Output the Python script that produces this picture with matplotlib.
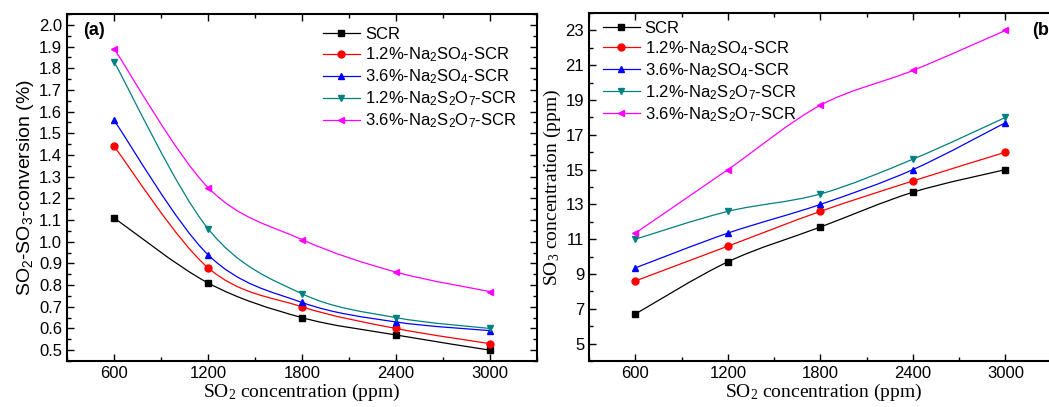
import numpy as np
import matplotlib
matplotlib.use("Agg")
import matplotlib.pyplot as plt
from matplotlib.path import Path
from matplotlib.patches import PathPatch
from matplotlib.lines import Line2D
from matplotlib.ticker import MultipleLocator, FormatStrFormatter

so2 = [600, 1200, 1800, 2400, 3000]

labels = ["SCR",
          r"1.2%-Na$\mathregular{_2}$SO$\mathregular{_4}$-SCR",
          r"3.6%-Na$\mathregular{_2}$SO$\mathregular{_4}$-SCR",
          r"1.2%-Na$\mathregular{_2}$S$\mathregular{_2}$O$\mathregular{_7}$-SCR",
          r"3.6%-Na$\mathregular{_2}$S$\mathregular{_2}$O$\mathregular{_7}$-SCR"]

# (a) SO2-SO3 conversion (%)
conv_scr = [1.11, 0.81, 0.65, 0.57, 0.50]
conv_12so4 = [1.44, 0.88, 0.70, 0.60, 0.53]
conv_36so4 = [1.56, 0.94, 0.72, 0.63, 0.59]
conv_12s2o7 = [1.83, 1.06, 0.76, 0.65, 0.60]
conv_36s2o7 = [1.89, 1.25, 1.01, 0.86, 0.77]

# (b) SO3 concentration (ppm)
so3_scr = [6.7, 9.7, 11.7, 13.7, 15.0]
so3_12so4 = [8.6, 10.6, 12.6, 14.35, 16.0]
so3_36so4 = [9.35, 11.35, 13.0, 15.0, 17.7]
so3_12s2o7 = [11.0, 12.6, 13.6, 15.6, 18.0]
so3_36s2o7 = [11.35, 15.0, 18.7, 20.7, 23.0]

colors = ["black", "#ff0000", "#0000ff", "#008080", "#ff00ff"]
markers = ["s", "o", "^", "v", "<"]

SANS = "Liberation Sans"
SERIF = "Liberation Serif"
plt.rcParams["font.family"] = SANS


def smooth_path(x, y):
    # Catmull-Rom curve through the points, drawn as cubic Bezier segments
    x = np.asarray(x, float)
    y = np.asarray(y, float)
    px = np.concatenate([[x[0]], x, [x[-1]]])
    py = np.concatenate([[y[0]], y, [y[-1]]])
    verts = [(x[0], y[0])]
    codes = [Path.MOVETO]
    for i in range(1, len(px) - 2):
        c1 = (px[i] + (px[i + 1] - px[i - 1]) / 6, py[i] + (py[i + 1] - py[i - 1]) / 6)
        c2 = (px[i + 1] - (px[i + 2] - px[i]) / 6, py[i + 1] - (py[i + 2] - py[i]) / 6)
        verts += [c1, c2, (px[i + 1], py[i + 1])]
        codes += [Path.CURVE4] * 3
    return Path(verts, codes)


def draw(ax, series):
    for ys, c, m in zip(series, colors, markers):
        ax.add_patch(PathPatch(smooth_path(so2, ys), fill=False, ec=c, lw=0.9, zorder=2))
        ax.plot(so2, ys, linestyle="none", marker=m, color=c, ms=5, zorder=3)


def style(ax, xmax):
    ax.set_xlim(300, xmax)
    ax.set_xticks(so2)
    ax.xaxis.set_minor_locator(MultipleLocator(300))
    ax.tick_params(which="both", direction="in", top=True, right=True, labelsize=12)
    ax.tick_params(which="major", length=5, width=1)
    ax.tick_params(which="minor", length=3, width=1)
    for s in ax.spines.values():
        s.set_linewidth(1.5)
    ax.set_xlabel(r"SO$\mathregular{_2}$ concentration (ppm)", family=SERIF, fontsize=14, labelpad=1)


def legend(ax, pos):
    handles = [Line2D([], [], color=c, marker=m, ms=5, lw=0.9) for c, m in zip(colors, markers)]
    ax.legend(handles, labels, loc="upper left", bbox_to_anchor=pos, frameon=False,
              fontsize=12, handlelength=2.2, handletextpad=0.3, labelspacing=0.2,
              borderaxespad=0, borderpad=0)


fig = plt.figure(figsize=(10.49, 4.07), dpi=100)
ax1 = fig.add_axes([0.0639, 0.113, 0.448, 0.8526])
ax2 = fig.add_axes([0.5615, 0.113, 0.447, 0.855])

draw(ax1, [conv_scr, conv_12so4, conv_36so4, conv_12s2o7, conv_36s2o7])
style(ax1, 3300)
ax1.set_ylim(0.45, 2.05)
ax1.yaxis.set_major_locator(MultipleLocator(0.1))
ax1.yaxis.set_minor_locator(MultipleLocator(0.05))
ax1.yaxis.set_major_formatter(FormatStrFormatter("%.1f"))
ax1.set_ylabel(r"SO$\mathregular{_2}$-SO$\mathregular{_3}$-conversion (%)", fontsize=14, labelpad=2)
ax1.text(0.034, 0.952, "(a)", transform=ax1.transAxes, fontsize=13, fontweight="bold", va="center")
legend(ax1, (0.545, 0.962))

draw(ax2, [so3_scr, so3_12so4, so3_36so4, so3_12s2o7, so3_36s2o7])
style(ax2, 3340)
ax2.set_ylim(4, 24)
ax2.yaxis.set_minor_locator(MultipleLocator(1))
ax2.set_yticks([5, 7, 9, 11, 13, 15, 17, 19, 21, 23])
ax2.set_ylabel(r"SO$\mathregular{_3}$ concentration (ppm)", family=SERIF, fontsize=14, labelpad=2)
ax2.text(0.945, 0.95, "(b)", transform=ax2.transAxes, fontsize=13, fontweight="bold", va="center")
legend(ax2, (0.03, 0.978))

fig.savefig("out.png", dpi=100)
